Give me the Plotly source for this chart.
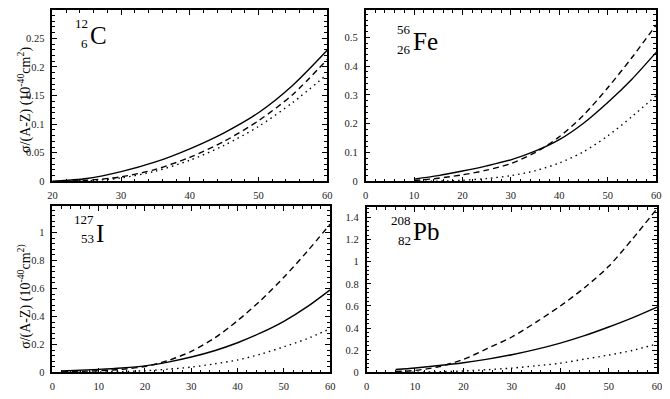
import plotly.graph_objects as go

# the page body adds an 8px margin, so the figure is drawn 8px smaller
OFF = 8
W, H = 670 - OFF, 399 - OFF
SERIF = "Liberation Serif, Times New Roman, serif"


def fx(px):
    return (max(px, OFF) - OFF) / W


def fy(py):
    return 1 - (max(py, OFF) - OFF) / H


# energy grids (x) for each nucleus
x_c = [20, 25, 30, 35, 40, 45, 50, 55, 60]
x_fe = [10, 15, 20, 25, 30, 35, 40, 45, 50, 55, 60]
x_i = [2, 10, 15, 20, 25, 30, 35, 40, 45, 50, 55, 60]
x_pb = [6, 10, 15, 20, 25, 30, 35, 40, 45, 50, 55, 60]

# 12C
c_solid = [0.0, 0.005, 0.017, 0.034, 0.057, 0.085, 0.120, 0.168, 0.229]
c_dash = [0.0, 0.002, 0.008, 0.021, 0.042, 0.070, 0.106, 0.152, 0.213]
c_dot = [0.0, 0.001, 0.006, 0.018, 0.037, 0.063, 0.096, 0.138, 0.187]

# 56Fe
fe_solid = [0.008, 0.020, 0.036, 0.054, 0.075, 0.105, 0.145, 0.202, 0.274, 0.355, 0.448]
fe_dash = [0.003, 0.011, 0.023, 0.039, 0.062, 0.100, 0.155, 0.230, 0.325, 0.430, 0.543]
fe_dot = [0.0, 0.001, 0.004, 0.010, 0.020, 0.037, 0.064, 0.103, 0.158, 0.225, 0.298]

# 127I
i_solid = [0.010, 0.022, 0.032, 0.047, 0.074, 0.110, 0.155, 0.212, 0.282, 0.365, 0.468, 0.590]
i_dash = [0.003, 0.012, 0.022, 0.042, 0.085, 0.150, 0.245, 0.370, 0.515, 0.680, 0.863, 1.06]
i_dot = [0.0, 0.003, 0.006, 0.012, 0.023, 0.038, 0.061, 0.089, 0.131, 0.183, 0.241, 0.312]

# 208Pb
pb_solid = [0.026, 0.040, 0.062, 0.088, 0.120, 0.160, 0.208, 0.265, 0.332, 0.410, 0.495, 0.590]
pb_dash = [0.008, 0.018, 0.052, 0.118, 0.217, 0.320, 0.454, 0.600, 0.765, 0.958, 1.210, 1.48]
pb_dot = [0.0, 0.002, 0.006, 0.013, 0.025, 0.039, 0.060, 0.083, 0.120, 0.157, 0.200, 0.258]

# nucleus labels: mass number, charge, symbol
nuclei = [("12", "6", "C"), ("56", "26", "Fe"), ("127", "53", "I"), ("208", "82", "Pb")]

panels = [
    dict(x=x_c, ys=(c_solid, c_dash, c_dot), xr=[20, 60], yr=[0, 0.2995], ydt=0.05, ymin=0.01,
         box=(48, 327, 3, 183), lab=(85, 22, 42, 34)),
    dict(x=x_fe, ys=(fe_solid, fe_dash, fe_dot), xr=[0, 60], yr=[0, 0.595], ydt=0.1, ymin=0.02,
         box=(366, 661, 4, 183), lab=(413, 28, 48, 40)),
    dict(x=x_i, ys=(i_solid, i_dash, i_dot), xr=[0, 60], yr=[0, 1.19], ydt=0.2, ymin=0.04,
         box=(48, 330, 208, 378), lab=(91, 222, 241, 236)),
    dict(x=x_pb, ys=(pb_solid, pb_dash, pb_dot), xr=[0, 60], yr=[0, 1.495], ydt=0.2, ymin=0.04,
         box=(367, 662, 209, 378), lab=(413, 223, 243, 234)),
]

DASHES = ["solid", "6px,4px", "1.5px,4px"]

fig = go.Figure()
annotations = []

for k, (p, nucl) in enumerate(zip(panels, nuclei), start=1):
    xa = "x" if k == 1 else f"x{k}"
    ya = "y" if k == 1 else f"y{k}"
    for y, dash in zip(p["ys"], DASHES):
        fig.add_trace(go.Scatter(
            x=p["x"], y=y, xaxis=xa, yaxis=ya, mode="lines",
            line=dict(color="black", width=1.4, shape="spline", smoothing=0.8, dash=dash),
            showlegend=False, hoverinfo="skip",
        ))
    l, r, t, b = p["box"]
    common = dict(
        showline=True, linecolor="black", linewidth=1.6, mirror="ticks",
        ticks="inside", ticklen=5, tickwidth=1, tickcolor="black",
        showgrid=False, zeroline=False,
        tickfont=dict(family=SERIF, size=10.5, color="#222"),
    )
    fig.update_layout(**{
        ("xaxis" if k == 1 else f"xaxis{k}"): dict(
            domain=[fx(l), fx(r)], range=p["xr"], dtick=10, tick0=0,
            anchor=ya, ticklabelstandoff=3,
            minor=dict(ticks="inside", ticklen=3, dtick=2, tickcolor="black"),
            **common),
        ("yaxis" if k == 1 else f"yaxis{k}"): dict(
            domain=[fy(b), fy(t)], range=p["yr"], dtick=p["ydt"], tick0=0,
            anchor=xa, ticklabelstandoff=4,
            minor=dict(ticks="inside", ticklen=3, dtick=p["ymin"], tickcolor="black"),
            **common),
    })
    sup, sub, sym = nucl
    sx, ysup, ysub, ysym = p["lab"]
    for txt, ax, ay, size, anc in ((sup, sx + 1, ysup, 13, "right"),
                                   (sub, sx + 1, ysub, 13, "right"),
                                   (sym, sx - 1, ysym, 25, "left")):
        annotations.append(dict(
            text=txt, x=fx(ax), y=fy(ay), xref="paper", yref="paper",
            xanchor=anc, yanchor="middle", showarrow=False,
            font=dict(family=SERIF, size=size, color="black")))

# y-axis titles for the left column
for txt, cy in (("σ/(A-Z) (10<sup>-40</sup>cm<sup>2</sup>)", 100),
                ("σ/(A-Z) (10<sup>-40</sup>cm<sup>2)</sup>", 300)):
    annotations.append(dict(
        text=txt, x=fx(19), y=fy(cy), xref="paper", yref="paper",
        xanchor="center", yanchor="middle", textangle=-90, showarrow=False,
        font=dict(family=SERIF, size=14, color="black")))

fig.update_layout(
    width=W, height=H,
    margin=dict(l=0, r=0, t=0, b=0),
    paper_bgcolor="white", plot_bgcolor="white",
    annotations=annotations,
    showlegend=False,
)

fig.write_html("out.html")
